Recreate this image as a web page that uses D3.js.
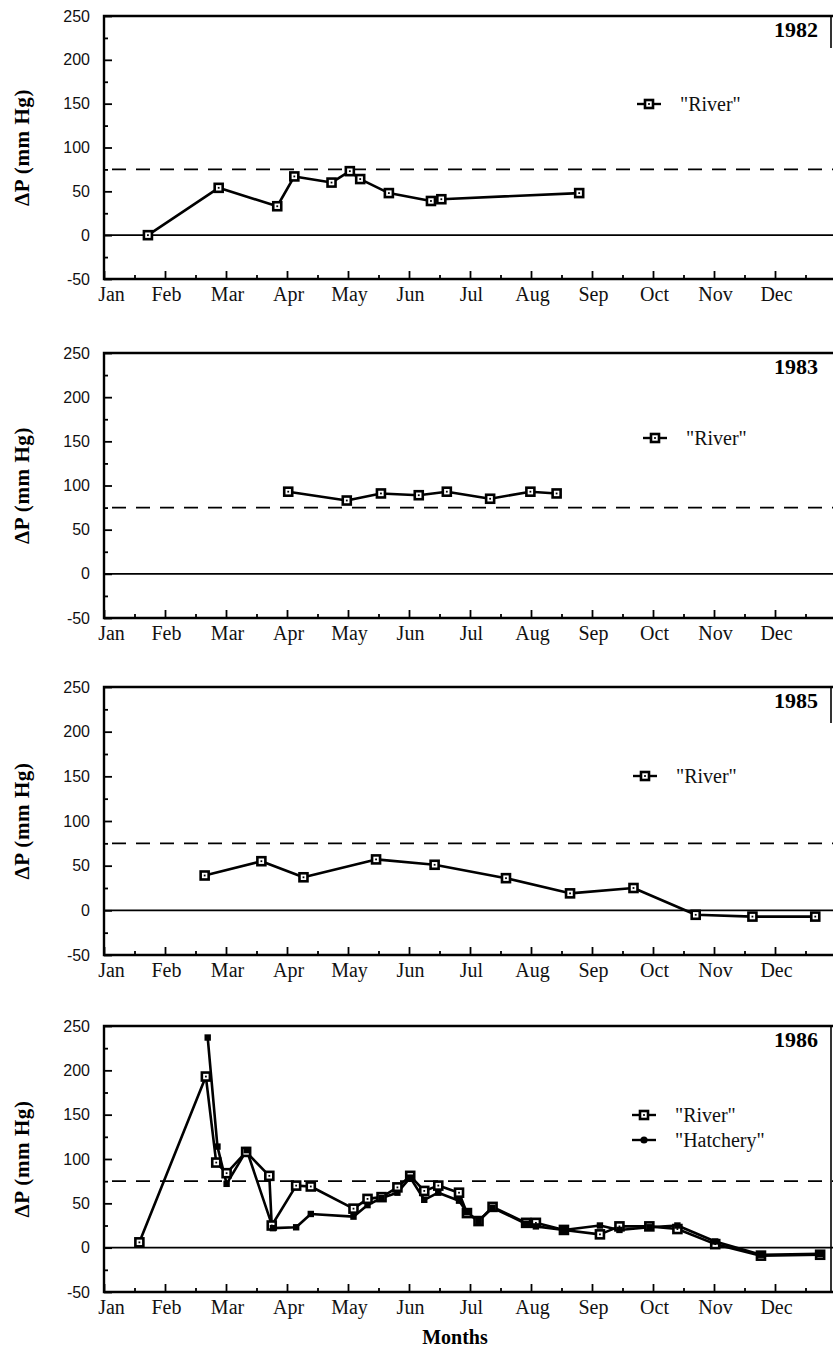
<!DOCTYPE html>
<html>
<head>
<meta charset="utf-8">
<script src="https://cdn.jsdelivr.net/npm/d3@7"></script>
<style>
  body { margin: 0; background: #fff; }
  svg { display: block; }
</style>
</head>
<body>
<div id="chart"></div>
<script>
/*  Data.
    x values are months since Jan 1 (so 1.5 = middle of Feb). */

var monthNames = ["Jan", "Feb", "Mar", "Apr", "May", "Jun", "Jul", "Aug", "Sep", "Oct", "Nov", "Dec"];
var yTickValues = [-50, 0, 50, 100, 150, 200, 250];
var yMinorValues = [-25, 25, 75, 125, 175, 225];
var thresholdValue = 75;
var yearLabels = ["1982", "1983", "1985", "1986"];

var river1982Month = [0.72, 1.88, 2.84, 3.12, 3.73, 4.03, 4.20, 4.67, 5.36, 5.53, 7.79];
var river1982DP    = [0, 54, 33, 67, 60, 73, 64, 48, 39, 41, 48];

var river1983Month = [3.02, 3.98, 4.54, 5.16, 5.62, 6.33, 6.99, 7.42];
var river1983DP    = [93, 83, 91, 89, 93, 85, 93, 91];

var river1985Month = [1.65, 2.58, 3.27, 4.46, 5.42, 6.59, 7.64, 8.68, 9.70, 10.63, 11.66];
var river1985DP    = [39, 55, 37, 57, 51, 36, 19, 25, -5, -7, -7];

var river1986Month = [0.58, 1.67, 1.84, 2.01, 2.33, 2.71, 2.75, 3.15, 3.39, 4.09, 4.32, 4.55, 4.81, 5.02, 5.25,
                      5.48, 5.82, 5.95, 6.14, 6.37, 6.92, 7.08, 7.54, 8.13, 8.45, 8.94, 9.40, 10.02, 10.77, 11.74];
var river1986DP    = [6, 193, 96, 84, 108, 81, 25, 70, 69, 44, 55, 57, 68, 81, 64,
                      70, 62, 39, 30, 46, 28, 28, 20, 15, 24, 24, 21, 4, -9, -8];

var hatchery1986Month = [1.70, 1.86, 2.01, 2.34, 2.77, 3.15, 3.39, 4.09, 4.32, 4.55, 4.81, 5.02, 5.25, 5.48,
                         5.82, 5.95, 6.14, 6.37, 6.92, 7.08, 7.54, 8.13, 8.45, 8.94, 9.40, 10.02, 10.77, 11.74];
var hatchery1986DP    = [237, 114, 72, 110, 22, 23, 38, 35, 48, 56, 62, 79, 54, 62,
                         53, 40, 30, 45, 27, 24, 20, 25, 20, 23, 25, 7, -8, -7];

// zip two arrays into points
function pts(months, vals) {
    return months.map(function(m, i) { return { m: m, v: vals[i] }; });
}

var panels = [
    { year: yearLabels[0], series: [{ name: '"River"', type: "river", data: pts(river1982Month, river1982DP) }] },
    { year: yearLabels[1], series: [{ name: '"River"', type: "river", data: pts(river1983Month, river1983DP) }] },
    { year: yearLabels[2], series: [{ name: '"River"', type: "river", data: pts(river1985Month, river1985DP) }] },
    { year: yearLabels[3], series: [
        { name: '"River"', type: "river", data: pts(river1986Month, river1986DP) },
        { name: '"Hatchery"', type: "hatchery", data: pts(hatchery1986Month, hatchery1986DP) }
    ] }
];

/*  Layout  */
var W = 833, H = 1350;
var plotLeft = 104, plotRight = 833;
var panelTop = [16, 353, 687, 1026];
var panelBottom = [279, 618, 955, 1292];
// the scan cuts the right border of the boxes, only these lengths show
var rightBorderLen = [32, 0, 36, 266];
var legendPos = [[649, 104], [655, 438], [645, 776], [644, 1115]];
var serif = "'Liberation Serif', 'Times New Roman', serif";
var sans = "'Liberation Sans', Arial, Helvetica, sans-serif";

var svg = d3.select("#chart").append("svg")
    .attr("width", W)
    .attr("height", H)
    .style("background", "#fff");

// x scale is shared: 12 months across the plot (scan crops the right edge a bit)
var x = d3.scaleLinear().domain([0, 12]).range([plotLeft, 836]);

panels.forEach(function(p, i) {
    var top = panelTop[i], bottom = panelBottom[i];
    var y = d3.scaleLinear().domain([-50, 250]).range([bottom, top]);
    var g = svg.append("g");

    // minor y ticks (every 25)
    g.append("g")
        .attr("transform", "translate(" + plotLeft + ",0)")
        .call(d3.axisLeft(y).tickValues(yMinorValues).tickSizeInner(-4).tickSizeOuter(0).tickFormat(""))
        .call(function(a) { a.select(".domain").remove(); })
        .selectAll("line").attr("stroke", "#000").attr("stroke-width", 1.8);

    // major y ticks + labels (hyphen, like the original, not a minus sign)
    var ya = g.append("g")
        .attr("transform", "translate(" + plotLeft + ",0)")
        .call(d3.axisLeft(y).tickValues(yTickValues).tickSizeInner(-8).tickSizeOuter(0).tickPadding(14)
            .tickFormat(function(v) { return String(v); }));
    ya.select(".domain").remove();
    ya.selectAll("line").attr("stroke", "#000").attr("stroke-width", 1.8);
    ya.selectAll("text")
        .attr("font-family", sans)
        .attr("font-size", 16)
        .attr("fill", "#111");

    // x ticks: month starts (labelled) and mid-months
    var xMinor = d3.range(0, 12).map(function(k) { return k + 0.5; });
    g.append("g")
        .attr("transform", "translate(0," + bottom + ")")
        .call(d3.axisBottom(x).tickValues(xMinor).tickSizeInner(-4).tickSizeOuter(0).tickFormat(""))
        .call(function(a) { a.select(".domain").remove(); })
        .selectAll("line").attr("stroke", "#000").attr("stroke-width", 1.8);

    var xa = g.append("g")
        .attr("transform", "translate(0," + bottom + ")")
        .call(d3.axisBottom(x).tickValues(d3.range(0, 12)).tickSizeInner(-8).tickSizeOuter(0).tickPadding(8)
            .tickFormat(function(k) { return monthNames[k]; }));
    xa.select(".domain").remove();
    xa.selectAll("line").attr("stroke", "#000").attr("stroke-width", 1.8);
    xa.selectAll("text")
        .attr("font-family", serif)
        .attr("font-size", 20)
        .attr("fill", "#111")
        .attr("dx", function(k) { return k == 0 ? 7 : 1; });

    // frame: left, top, bottom, and the visible bit of the right side
    var frame = g.append("path")
        .attr("d", "M" + plotRight + "," + top + "H" + plotLeft + "V" + bottom + "H" + plotRight)
        .attr("fill", "none")
        .attr("stroke", "#000")
        .attr("stroke-width", 2.4);
    if (rightBorderLen[i] > 0) {
        g.append("line")
            .attr("x1", 831).attr("x2", 831)
            .attr("y1", top).attr("y2", top + rightBorderLen[i])
            .attr("stroke", "#000").attr("stroke-width", 1.6);
    }

    // zero line and 75 mm Hg dashed line
    g.append("line")
        .attr("x1", plotLeft).attr("x2", plotRight)
        .attr("y1", y(0)).attr("y2", y(0))
        .attr("stroke", "#000").attr("stroke-width", 1.8);
    g.append("line")
        .attr("x1", plotLeft + 8).attr("x2", plotRight)
        .attr("y1", y(thresholdValue)).attr("y2", y(thresholdValue))
        .attr("stroke", "#000").attr("stroke-width", 1.6)
        .attr("stroke-dasharray", "14,10");

    // year label
    g.append("text")
        .attr("x", 818)
        .attr("y", top + 21)
        .attr("text-anchor", "end")
        .attr("font-family", serif)
        .attr("font-weight", "bold")
        .attr("font-size", 22)
        .text(p.year);

    // y title
    g.append("text")
        .attr("transform", "translate(22," + ((top + bottom) / 2) + ") rotate(-90)")
        .attr("text-anchor", "middle")
        .attr("dominant-baseline", "central")
        .attr("font-family", serif)
        .attr("font-weight", "bold")
        .attr("font-size", 21)
        .attr("letter-spacing", 0.6)
        .text("\u0394P (mm Hg)");

    var line = d3.line()
        .x(function(d) { return x(d.m); })
        .y(function(d) { return y(d.v); });

    // lines first (hatchery under river), then markers
    var order = p.series.slice().sort(function(a, b) { return a.type == "hatchery" ? -1 : 1; });
    order.forEach(function(s) {
        g.append("path")
            .datum(s.data)
            .attr("d", line)
            .attr("fill", "none")
            .attr("stroke", "#000")
            .attr("stroke-width", s.type == "river" ? 2.6 : 2.6)
            .attr("stroke-linejoin", "round");
    });

    p.series.forEach(function(s) {
        if (s.type == "river") drawRiver(g, s.data.map(function(d) { return [x(d.m), y(d.v)]; }));
    });
    p.series.forEach(function(s) {
        if (s.type == "hatchery") drawHatchery(g, s.data.map(function(d) { return [x(d.m), y(d.v)]; }));
    });

    // legend
    var lx = legendPos[i][0], ly = legendPos[i][1];
    p.series.forEach(function(s, k) {
        var yy = ly + k * 25;
        g.append("line")
            .attr("x1", lx - 12).attr("x2", lx + 12)
            .attr("y1", yy).attr("y2", yy)
            .attr("stroke", "#000").attr("stroke-width", 2.4);
        if (s.type == "river") drawRiver(g, [[lx, yy]]);
        else g.append("circle").attr("cx", lx).attr("cy", yy).attr("r", 3.6).attr("fill", "#000");
        g.append("text")
            .attr("x", lx + 31)
            .attr("y", yy)
            .attr("dy", "0.35em")
            .attr("font-family", serif)
            .attr("font-size", 20)
            .attr("fill", "#111")
            .text(s.name);
    });
});

// "Months" title under the last panel
svg.append("text")
    .attr("x", 455)
    .attr("y", 1344)
    .attr("text-anchor", "middle")
    .attr("font-family", serif)
    .attr("font-weight", "bold")
    .attr("font-size", 20)
    .text("Months");

// open square with a small dot inside
function drawRiver(g, xy) {
    var m = g.append("g").selectAll("g").data(xy).enter().append("g");
    m.append("rect")
        .attr("x", function(d) { return d[0] - 4; })
        .attr("y", function(d) { return d[1] - 4; })
        .attr("width", 8).attr("height", 8)
        .attr("fill", "#fff")
        .attr("stroke", "#000")
        .attr("stroke-width", 2.6);
    m.append("rect")
        .attr("x", function(d) { return d[0] - 0.9; })
        .attr("y", function(d) { return d[1] - 0.9; })
        .attr("width", 1.8).attr("height", 1.8)
        .attr("fill", "#000");
}

// small filled square
function drawHatchery(g, xy) {
    g.append("g").selectAll("rect").data(xy).enter().append("rect")
        .attr("x", function(d) { return d[0] - 3.2; })
        .attr("y", function(d) { return d[1] - 3.2; })
        .attr("width", 6.4).attr("height", 6.4)
        .attr("fill", "#000");
}
</script>
</body>
</html>
